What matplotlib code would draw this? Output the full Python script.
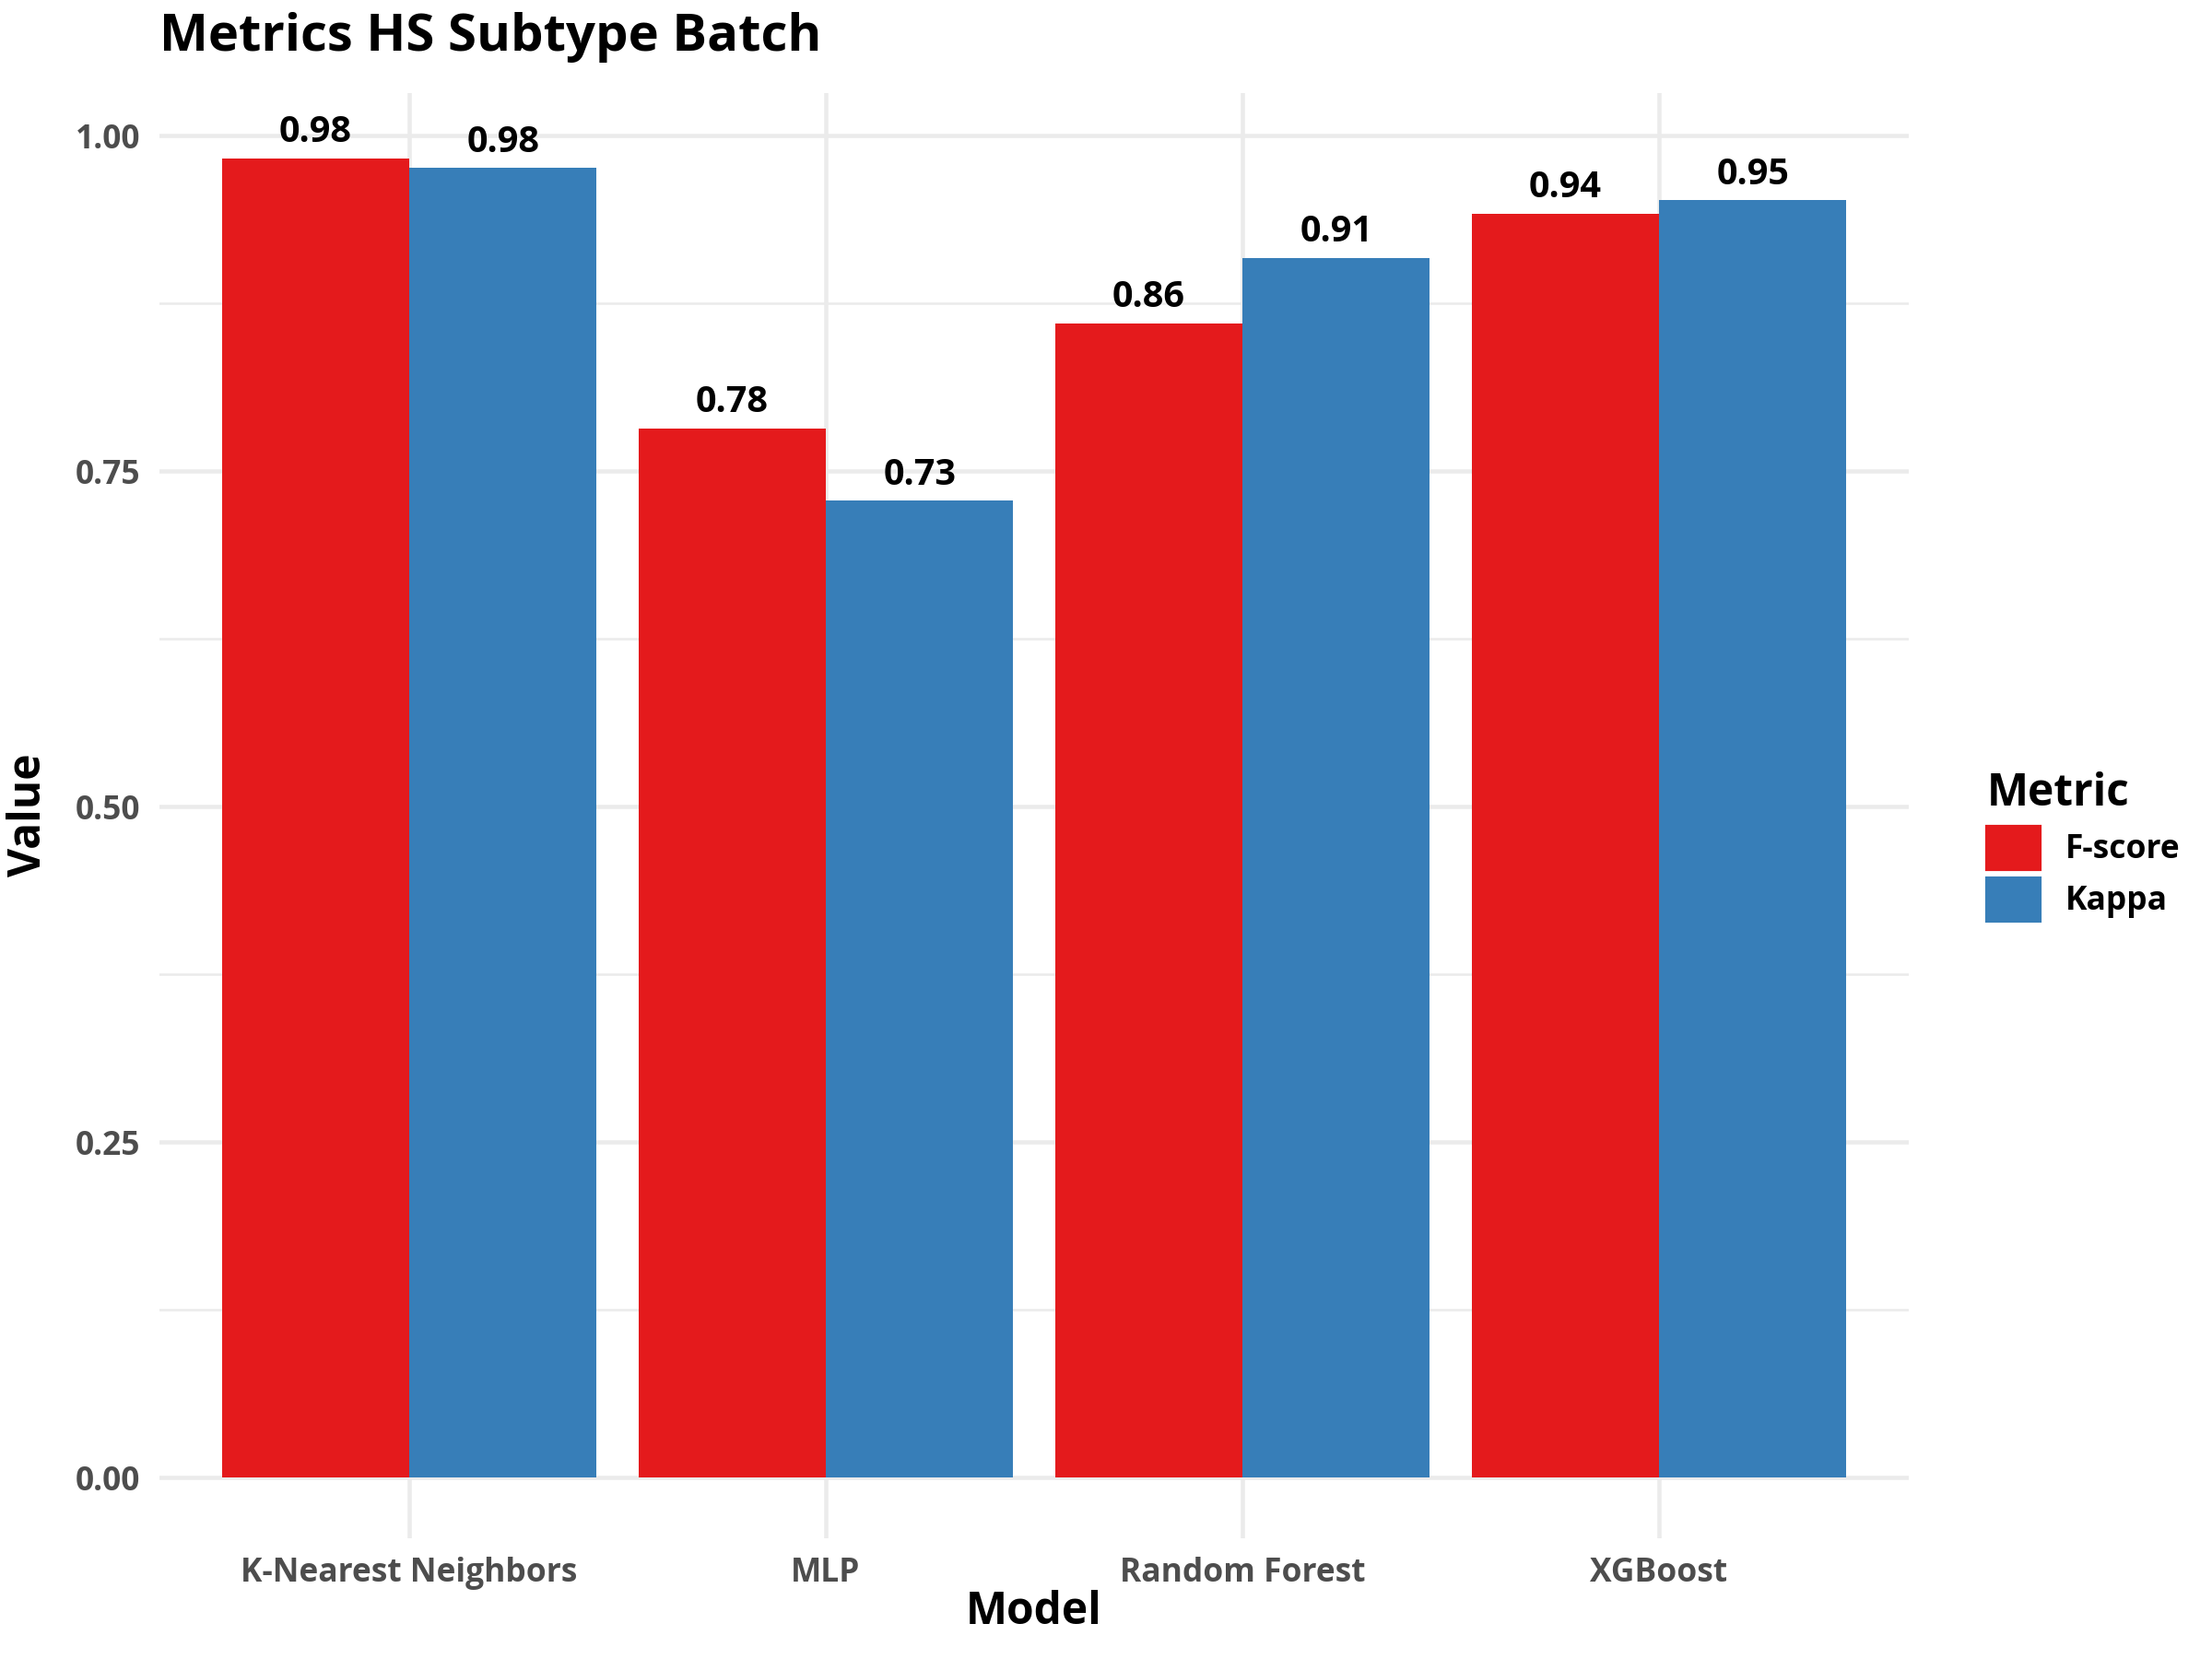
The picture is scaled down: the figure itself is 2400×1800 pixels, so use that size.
import numpy as np
import matplotlib.pyplot as plt
from matplotlib.patches import Patch

plt.rcParams['font.family'] = ['Open Sans', 'DejaVu Sans']

models = ['K-Nearest Neighbors', 'MLP', 'Random Forest', 'XGBoost']
fscore = [0.983, 0.782, 0.860, 0.942]
kappa = [0.976, 0.728, 0.909, 0.952]
metrics = ['F-score', 'Kappa']
colors = ['#E41A1C', '#377EB8']

fig = plt.figure(figsize=(8, 6), dpi=300)
ax = fig.add_axes([0.072, 0.073, 0.791, 0.871])

x = np.arange(len(models))
w = 0.45
for vals, off, c in [(fscore, -w / 2, colors[0]), (kappa, w / 2, colors[1])]:
    ax.bar(x + off, vals, width=w, color=c, zorder=2)
    for xi, v in zip(x + off, vals):
        ax.text(xi, v + 0.006, f'{v:.2f}', ha='center', va='bottom',
                fontsize=9.5, fontweight='bold', color='black')

ax.set_xlim(-0.6, 3.6)
ax.set_ylim(-0.045, 1.032)
ax.set_yticks([0, 0.25, 0.5, 0.75, 1.0])
ax.set_yticklabels(['0.00', '0.25', '0.50', '0.75', '1.00'])
ax.set_yticks([0.125, 0.375, 0.625, 0.875], minor=True)
ax.set_xticks(x)
ax.set_xticklabels(models)
ax.grid(True, which='major', color='#EBEBEB', linewidth=1.1, zorder=0)
ax.grid(True, which='minor', axis='y', color='#EBEBEB', linewidth=0.6, zorder=0)
ax.set_axisbelow(True)
for s in ax.spines.values():
    s.set_visible(False)
ax.tick_params(which='both', length=0, pad=5, labelsize=8.5, labelcolor='#4D4D4D')
for lab in ax.get_xticklabels() + ax.get_yticklabels():
    lab.set_fontweight('bold')

ax.set_xlabel('Model', fontsize=11.5, fontweight='bold', labelpad=0)
ax.set_ylabel('Value', fontsize=11.5, fontweight='bold', labelpad=6)
fig.text(0.072, 0.962, 'Metrics HS Subtype Batch', fontsize=13.5, fontweight='bold', va='bottom')

handles = [Patch(color=c) for c in colors]
leg = fig.legend(handles, metrics, loc='center left', bbox_to_anchor=(0.885, 0.49),
                 frameon=False, title='Metric', handlelength=1.6, handleheight=1.6,
                 labelspacing=0.3, prop={'weight': 'bold', 'size': 8.5})
leg.get_title().set_fontweight('bold')
leg.get_title().set_fontsize(11.5)
leg._legend_box.align = 'left'

fig.savefig('out.png', dpi=300)
